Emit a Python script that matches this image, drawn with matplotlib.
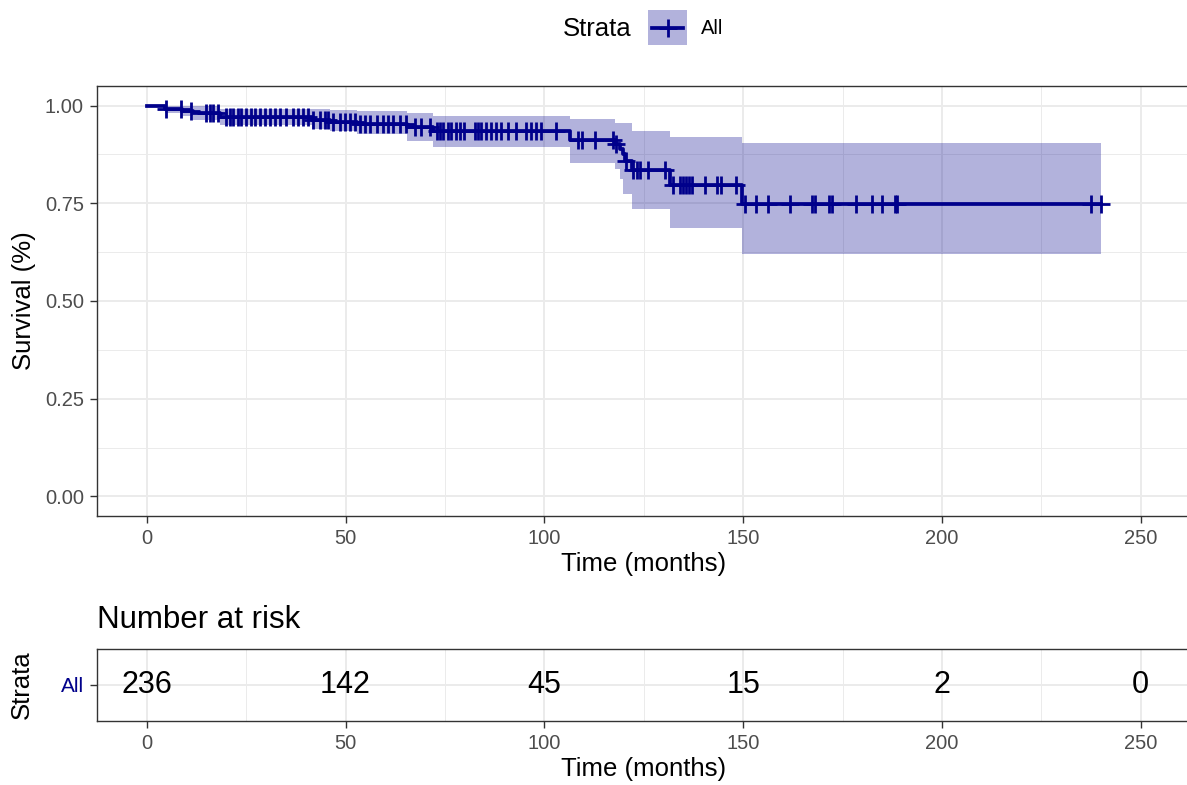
import matplotlib
matplotlib.use("Agg")
import matplotlib.pyplot as plt
import numpy as np
from matplotlib.patches import Rectangle

plt.rcParams['font.family'] = ['Liberation Sans', 'DejaVu Sans']

# ---- Kaplan-Meier estimate (step starts) and 95% confidence band ----
step_time = [0, 4.5, 8.8, 11.6, 18.4, 41.5, 46.0, 52.8, 65.4, 72.0,
             106.4, 117.7, 119.0, 119.7, 120.2, 122.0, 131.5, 149.7]
step_surv = [1.000, 0.992, 0.987, 0.981, 0.970, 0.962, 0.958, 0.954, 0.946, 0.936,
             0.911, 0.901, 0.888, 0.875, 0.858, 0.836, 0.798, 0.747]
step_lower = [1.000, 0.981, 0.972, 0.964, 0.950, 0.940, 0.935, 0.928, 0.910, 0.893,
              0.854, 0.837, 0.811, 0.773, 0.773, 0.735, 0.686, 0.620]
step_upper = [1.000, 1.000, 1.000, 0.998, 0.992, 0.990, 0.988, 0.985, 0.980, 0.973,
              0.966, 0.956, 0.956, 0.956, 0.956, 0.934, 0.920, 0.905]
last_time = 240.0

# ---- censoring times ----
censor_time = [
    4.95, 8.7, 11.2, 15.0, 15.8, 16.7, 17.9, 20.0, 20.9, 21.7, 23.0, 23.8, 25.1,
    26.3, 27.2, 28.4, 29.7, 30.9, 32.2, 33.5, 35.1, 36.8, 38.1, 39.3, 40.6, 41.8,
    43.5, 44.8, 45.6, 46.9, 48.5, 49.8, 51.1, 52.3, 53.6, 54.8, 56.1, 57.8, 59.4,
    60.7, 61.9, 63.6, 65.3, 67.4, 69.1, 71.2, 72.9, 73.7, 74.5, 75.7, 76.6, 77.7,
    78.7, 79.9, 82.5, 83.3, 84.2, 85.4, 86.7, 87.9, 89.2, 90.9, 93.0, 95.5, 96.7,
    98.0, 99.2, 103.0, 108.4, 109.6, 112.7, 117.2, 118.0, 120.6, 122.3, 123.2,
    124.0, 126.0, 130.3, 132.3, 134.2, 135.0, 135.7, 136.5, 137.2, 140.3, 143.4,
    144.5, 148.3, 150.5, 153.2, 156.3, 161.9, 167.4, 168.1, 171.5, 172.4, 178.5,
    182.5, 184.9, 188.2, 188.6, 237.6, 240.0]

# ---- number at risk table ----
risk_times = [0, 50, 100, 150, 200, 250]
risk_counts = [236, 142, 45, 15, 2, 0]
strata_labels = ["All"]

x_ticks = [0, 50, 100, 150, 200, 250]
y_ticks = [0.00, 0.25, 0.50, 0.75, 1.00]

LINE = "#00008B"
BAND = LINE
GRID = "#EBEBEB"
BORDER = "#333333"
TICKTXT = "#4D4D4D"

LW = 2.7
MS = 12.5
MEW = 2.0

W, H = 1187, 785
fig = plt.figure(figsize=(W / 100, H / 100), dpi=100)


def box(l, t, r, b):
    return [l / W, 1 - b / H, (r - l) / W, (b - t) / H]


def style_axes(ax):
    ax.set_facecolor("white")
    for s in ax.spines.values():
        s.set_color(BORDER)
        s.set_linewidth(1.0)
    ax.tick_params(axis="both", which="major", length=5, width=1.0, color=BORDER,
                   labelcolor=TICKTXT, labelsize=14.5, pad=4.5)
    ax.tick_params(axis="both", which="minor", length=0)
    ax.grid(True, which="major", color=GRID, linewidth=1.4, zorder=0)
    ax.grid(True, which="minor", color=GRID, linewidth=0.7, zorder=0)
    ax.set_axisbelow(True)


# ---------------- survival panel ----------------
ax = fig.add_axes(box(97, 86, 1190.4, 516))
style_axes(ax)

st = np.array(step_time + [last_time])
sv = np.array(step_surv + [step_surv[-1]])
lo = np.array(step_lower + [step_lower[-1]])
up = np.array(step_upper + [step_upper[-1]])

ax.fill_between(st, lo, up, step="post", color=BAND, alpha=0.3, linewidth=0, zorder=2)
ax.step(st, sv, where="post", color=LINE, linewidth=LW, zorder=3)

ct = np.array(censor_time)
idx = np.searchsorted(np.array(step_time), ct, side="right") - 1
cy = np.array(step_surv)[idx]
ax.plot(ct, cy, linestyle="none", marker="+", markersize=MS, markeredgewidth=MEW,
        color=LINE, zorder=4)

ax.set_xlim(-12.5, 262.5)
ax.set_ylim(-0.05, 1.05)
ax.set_xticks(x_ticks)
ax.set_xticks([25, 75, 125, 175, 225], minor=True)
ax.set_yticks(y_ticks)
ax.set_yticklabels([f"{v:.2f}" for v in y_ticks])
ax.set_yticks([0.125, 0.375, 0.625, 0.875], minor=True)
ax.set_xlabel("Time (months)", fontsize=18.5, labelpad=3)
ax.set_ylabel("Survival (%)", fontsize=18.5, labelpad=6)

# ---------------- legend ----------------
fig.text(563 / W, 1 - 29 / H, "Strata", fontsize=18.5, ha="left", va="center")
kax = fig.add_axes(box(648, 10, 687, 45))
kax.set_xlim(0, 1)
kax.set_ylim(0, 1)
kax.axis("off")
kax.add_patch(Rectangle((0, 0), 1, 1, facecolor=BAND, alpha=0.3, edgecolor="none"))
kax.plot([0.1, 0.9], [0.5, 0.5], color=LINE, linewidth=LW)
kax.plot([0.5], [0.5], marker="+", markersize=MS, markeredgewidth=MEW, color=LINE)
fig.text(701 / W, 1 - 29 / H, "All", fontsize=14.5, ha="left", va="center")

# ---------------- number at risk table ----------------
fig.text(97 / W, 1 - 620 / H, "Number at risk", fontsize=22.5, ha="left", va="center")
rax = fig.add_axes(box(97, 649, 1190.4, 721))
style_axes(rax)
rax.set_xlim(-12.5, 262.5)
rax.set_ylim(0.4, 1.6)
rax.set_xticks(x_ticks)
rax.set_xticks([25, 75, 125, 175, 225], minor=True)
rax.set_yticks([1])
rax.set_yticklabels(strata_labels)
for lbl in rax.get_yticklabels():
    lbl.set_color(LINE)
    lbl.set_fontsize(15)
for t, n in zip(risk_times, risk_counts):
    rax.text(t, 1, str(n), fontsize=22, ha="center", va="center", color="black", zorder=5)
rax.set_xlabel("Time (months)", fontsize=18.5, labelpad=3)
rax.set_ylabel("Strata", fontsize=18.5, labelpad=19)

fig.savefig("out.png", dpi=100, facecolor="white")
